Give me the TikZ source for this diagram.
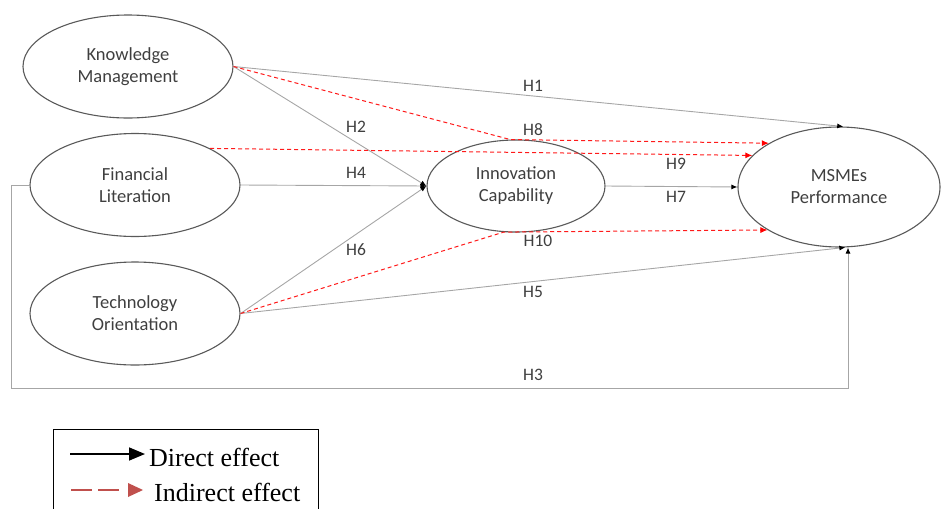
\documentclass[tikz,border=0pt]{standalone}
\usepackage{fontspec}
\setmainfont{Carlito}
\newfontfamily\legfont{Liberation Serif}
\usetikzlibrary{shapes.geometric,arrows.meta}
\definecolor{txtgray}{HTML}{3F3F3F}
\definecolor{linegray}{HTML}{A6A6A6}
\definecolor{ellgray}{HTML}{595959}
\definecolor{legred}{HTML}{C0504D}
\definecolor{dashred}{HTML}{FF1A1A}
\tikzset{
  construct/.style={ellipse, draw=ellgray, line width=1.1pt, inner sep=0pt,
    align=center, text=txtgray, font=\fontsize{18.5}{22}\selectfont},
  direct/.style={draw=linegray, line width=0.9pt, -{Latex[length=6pt,width=5pt,fill=black,color=black]}},
  indirect/.style={draw=dashred, line width=1pt, dash pattern=on 4pt off 3pt,
    -{Latex[length=7pt,width=6pt,color=red]}},
  hlab/.style={text=txtgray, font=\fontsize{17.5}{20}\selectfont, inner sep=0pt},
}
\begin{document}
\begin{tikzpicture}[x=1pt,y=-1pt]
\useasboundingbox (0,0) rectangle (946,509);
% constructs
\node[construct, minimum width=210pt, minimum height=103pt] (KM) at (128,66.5) {Knowledge\\Management};
\node[construct, minimum width=210pt, minimum height=103pt] (FL) at (135,185) {Financial\\Literation};
\node[construct, minimum width=210pt, minimum height=103pt] (TO) at (135,313.5) {Technology\\Orientation};
\node[construct, minimum width=178pt, minimum height=92pt] (IC) at (516,186) {Innovation\\Capability};
\node[construct, minimum width=202pt, minimum height=120pt] (MP) at (839,187) {MSMEs\\Performance};
% H3 loop
\coordinate (h3c) at (848,388);
\draw[direct] (FL.west) -- ++(-18,0) |- (h3c) -- (h3c |- MP.south);
% direct effects
\draw[direct] (KM.east) -- (MP.86);
\draw[direct] (KM.east) -- (IC.west);
\draw[direct] (FL.east) -- (IC.west);
\draw[direct] (TO.east) -- (IC.west);
\draw[direct] (IC.east) -- (MP.west);
\draw[direct] (TO.east) -- (MP.276);
% indirect effects
\draw[indirect] (KM.east) -- (IC.97) -- (MP.148);
\draw[indirect] (FL.26) -- (MP.160);
\draw[indirect] (TO.east) -- (IC.255) -- (MP.211);
% labels
\node[hlab] (l1) at (533,86) {H1};
\node[hlab] (l2) at (356,127) {H2};
\node[hlab] (l8) at (533,130) {H8};
\node[hlab] (l4) at (356,173) {H4};
\node[hlab] (l9) at (676,164) {H9};
\node[hlab] (l7) at (676,197) {H7};
\node[hlab] (l10) at (538,241) {H10};
\node[hlab] (l6) at (356,250) {H6};
\node[hlab] (l5) at (533,292) {H5};
\node[hlab] (l3) at (533,375) {H3};
% legend
\draw[black, line width=1pt] (53,429) rectangle (318,530);
\coordinate (da) at (70,454);
\coordinate (db) at (145,454);
\draw[black, line width=1.6pt, -{Triangle[length=16pt,width=13pt]}] (da) -- (db);
\node[anchor=west, inner sep=0pt, font=\legfont\fontsize{26}{28}\selectfont] (dtxt) at (149,457) {Direct effect};
\coordinate (ia) at (71,490);
\coordinate (ib) at (122,490);
\draw[legred, line width=2pt, dash pattern=on 21pt off 6pt] (ia) -- (ib);
\fill[legred] (128,483) -- (143,490) -- (128,497) -- cycle;
\node[anchor=west, inner sep=0pt, font=\legfont\fontsize{26}{28}\selectfont] (itxt) at (154,492) {Indirect effect};
\end{tikzpicture}
\end{document}
